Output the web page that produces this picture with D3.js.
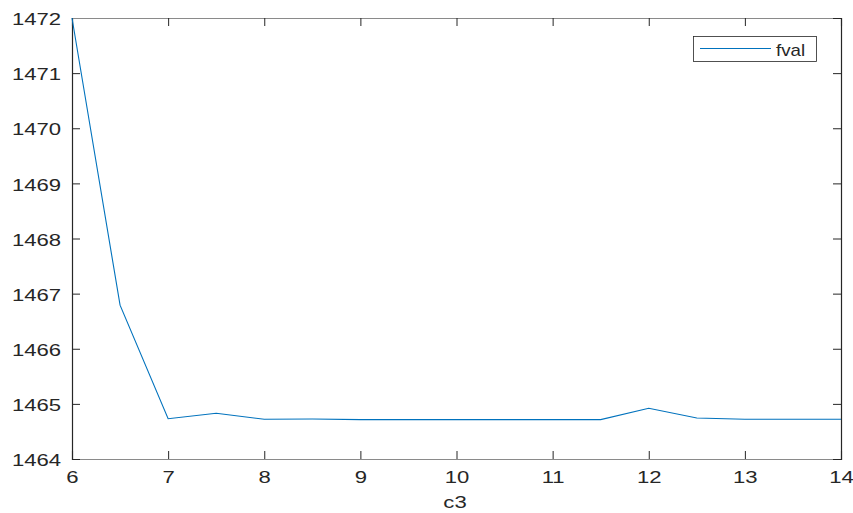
<!DOCTYPE html>
<html>
<head>
<meta charset="utf-8">
<script src="https://cdn.jsdelivr.net/npm/d3@7"></script>
<style>
  html, body { margin: 0; padding: 0; background: #fff; }
  svg { display: block; }
  text { font-family: "Liberation Sans", Arial, Helvetica, sans-serif; fill: #262626; }
</style>
</head>
<body>
<svg id="chart" width="853" height="513"></svg>
<script>
// Objective value over the c3 sweep
const c3 = [6, 6.5, 7, 7.5, 8, 8.5, 9, 9.5, 10, 10.5, 11, 11.5, 12, 12.5, 13, 13.5, 14];
const fval = [1472.0, 1466.79, 1464.73, 1464.83, 1464.72, 1464.725, 1464.715, 1464.715, 1464.715,
              1464.715, 1464.715, 1464.715, 1464.92, 1464.745, 1464.72, 1464.72, 1464.72];
const xTicks = [6, 7, 8, 9, 10, 11, 12, 13, 14];
const yTicks = [1464, 1465, 1466, 1467, 1468, 1469, 1470, 1471, 1472];
const seriesName = "fval";
const xLabel = "c3";

const svg = d3.select("#chart");
const plotL = 72, plotR = 841, plotT = 18, plotB = 459;

const x = d3.scaleLinear().domain([6, 14]).range([plotL, plotR]);
const y = d3.scaleLinear().domain([1464, 1472]).range([plotB, plotT]);

const tickLen = 8;
const axisColor = "#262626";
const fontPx = "16px";
const stretch = 1.38;   // wide lettering for the numeric labels

// Bottom axis with ticks pointing inward
const gx = svg.append("g").attr("transform", `translate(0,${plotB})`)
  .call(d3.axisBottom(x).tickValues(xTicks).tickSize(-tickLen).tickPadding(13).tickFormat(d3.format("d")));
// Left axis with ticks pointing inward
const gy = svg.append("g").attr("transform", `translate(${plotL},0)`)
  .call(d3.axisLeft(y).tickValues(yTicks).tickSize(-tickLen).tickPadding(11).tickFormat(d3.format("d")));
// Top and right mirror axes (ticks only)
const gxt = svg.append("g").attr("transform", `translate(0,${plotT})`)
  .call(d3.axisTop(x).tickValues(xTicks).tickSize(-tickLen).tickFormat(""));
const gyr = svg.append("g").attr("transform", `translate(${plotR},0)`)
  .call(d3.axisRight(y).tickValues(yTicks).tickSize(-tickLen).tickFormat(""));

[gx, gy, gxt, gyr].forEach(g => {
  g.attr("font-size", null).attr("font-family", null);
  g.selectAll(".domain").attr("stroke", axisColor).attr("stroke-width", 1.2);
  g.selectAll(".tick line").attr("stroke", axisColor).attr("stroke-width", 1);
  g.selectAll(".tick text")
    .style("font-size", fontPx)
    .style("font-family", "'Liberation Sans', Arial, Helvetica, sans-serif")
    .attr("fill", axisColor);
});
[gx, gxt].forEach(g => g.select(".domain").attr("stroke", "#8a8a8a"));

// Widen the tick labels about their anchor points
gx.selectAll(".tick text").attr("transform", `scale(${stretch},1)`);
gy.selectAll(".tick text")
  .attr("x", -11 / stretch)
  .attr("dy", "0.42em")
  .attr("transform", `scale(${stretch},1)`);

// Series line
svg.append("path")
  .datum(c3.map((d, i) => [d, fval[i]]))
  .attr("fill", "none")
  .attr("stroke", "#0072BD")
  .attr("stroke-width", 1.1)
  .attr("d", d3.line().x(d => x(d[0])).y(d => y(d[1])));

// Legend
const lg = svg.append("g");
lg.append("rect").attr("x", 693.5).attr("y", 36.5).attr("width", 123).attr("height", 25)
  .attr("fill", "#fff").attr("stroke", axisColor).attr("stroke-width", 0.8);
lg.append("line").attr("x1", 700).attr("x2", 771).attr("y1", 48.5).attr("y2", 48.5)
  .attr("stroke", "#0072BD").attr("stroke-width", 1.1);
lg.append("text")
  .attr("transform", "translate(776,55.5) scale(1.17,1)")
  .style("font-size", fontPx).text(seriesName);

// X axis title
svg.append("text")
  .attr("transform", `translate(${(plotL + plotR) / 2 - 1.5},508) scale(${stretch},1)`)
  .attr("text-anchor", "middle").style("font-size", fontPx).text(xLabel);
</script>
</body>
</html>
